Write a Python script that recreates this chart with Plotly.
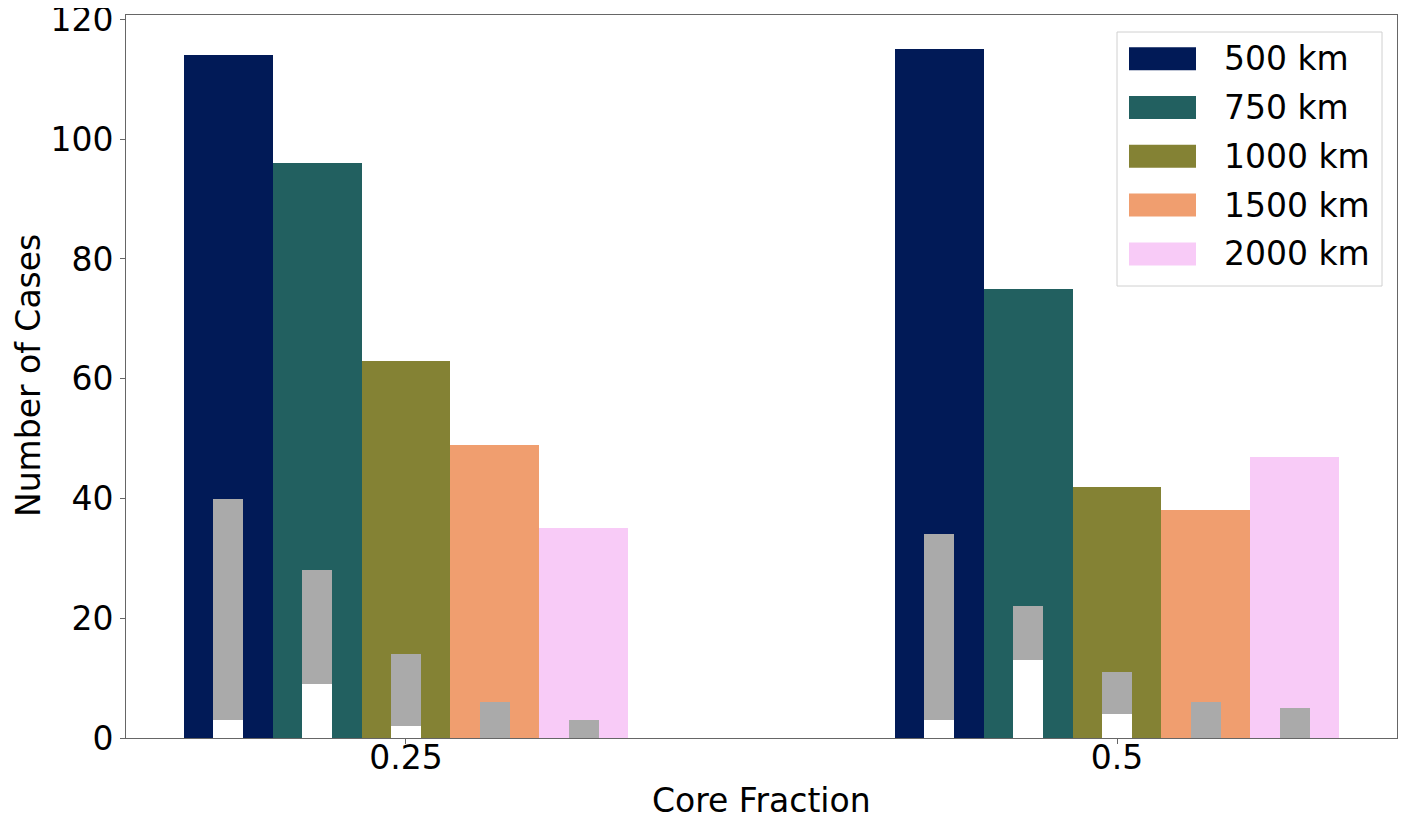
import plotly.graph_objects as go

# ---- data ----
groups = ["0.25", "0.5"]
series_names = ["500 km", "750 km", "1000 km", "1500 km", "2000 km"]
series_colors = ["#011a57", "#226060", "#848234", "#f09e6f", "#f8cbf7"]
total_cases = [
    [114, 115],
    [96, 75],
    [63, 42],
    [49, 38],
    [35, 47],
]
gray_cases = [
    [40, 34],
    [28, 22],
    [14, 11],
    [6, 6],
    [3, 5],
]
white_cases = [
    [3, 3],
    [9, 13],
    [2, 4],
    [0, 0],
    [0, 0],
]
y_ticks = [0, 20, 40, 60, 80, 100, 120]

# ---- layout constants (page has an 8px body margin) ----
OFF = 8
W, H = 1408 - 2 * OFF, 822 - 2 * OFF
# plot area in screen pixels
SX0, SX1, SY0, SY1 = 126, 1397, 15, 738
L, T = SX0 - OFF, SY0 - OFF
R = W - (SX1 - OFF)
B = H - (SY1 - OFF)
PW, PH = W - L - R, H - T - B
bw = 0.125
FONT = "DejaVu Sans"
FS = 33

group_pos = list(range(len(groups)))

fig = go.Figure()
for i, name in enumerate(series_names):
    xs = [g + (i - 2) * bw for g in group_pos]
    fig.add_trace(go.Bar(x=xs, y=total_cases[i], width=bw, marker_color=series_colors[i],
                         marker_line_width=0, name=name, showlegend=False))
for i, name in enumerate(series_names):
    xs = [g + (i - 2) * bw for g in group_pos]
    fig.add_trace(go.Bar(x=xs, y=gray_cases[i], width=bw / 3, marker_color="#aaaaaa",
                         marker_line_width=0, showlegend=False))
for i, name in enumerate(series_names):
    xs = [g + (i - 2) * bw for g in group_pos]
    fig.add_trace(go.Bar(x=xs, y=white_cases[i], width=bw / 3, marker_color="#ffffff",
                         marker_line_width=0, showlegend=False))

xmin = -2.5 * bw
xmax = group_pos[-1] + 2.5 * bw
pad = 0.05 * (xmax - xmin)
ymax = max(max(v) for v in total_cases) * 1.05

fig.update_layout(
    width=W, height=H,
    margin=dict(l=L, r=R, t=T, b=B, autoexpand=False),
    barmode="overlay",
    plot_bgcolor="white", paper_bgcolor="white",
    font=dict(family=FONT, size=FS, color="black"),
    bargap=0,
)
fig.update_xaxes(range=[xmin - pad, xmax + pad], tickvals=group_pos, ticktext=groups,
                 automargin=False, ticklabeloverflow="allow", ticklabelstandoff=-15,
                 showgrid=False, zeroline=False, showline=True, mirror=True,
                 linecolor="#666666", linewidth=1, ticks="outside", ticklen=5,
                 tickcolor="#666666", tickfont=dict(size=FS, family=FONT, color="black"))
fig.update_yaxes(range=[0, ymax], tickvals=y_ticks, showgrid=False, zeroline=False,
                 automargin=False, ticklabeloverflow="allow",
                 showline=True, mirror=True, linecolor="#666666", linewidth=1,
                 ticks="outside", ticklen=5, tickcolor="#666666",
                 tickfont=dict(size=FS, family=FONT, color="black"))

def px_x(p):
    return (p - SX0) / PW

def px_y(p):
    return (SY1 - p) / PH

annotations = [
    dict(text="Core Fraction", xref="paper", yref="paper", x=0.5, y=px_y(801),
         xanchor="center", yanchor="middle", showarrow=False,
         font=dict(size=FS, family=FONT, color="black")),
    dict(text="Number of Cases", xref="paper", yref="paper", x=px_x(28), y=px_y(376),
         xanchor="center", yanchor="middle", showarrow=False, textangle=-90,
         font=dict(size=FS, family=FONT, color="black")),
]
shapes = []
# legend box
bx0, bx1, by0, by1 = 1117, 1382, 32, 286
shapes.append(dict(type="rect", xref="paper", yref="paper",
                   x0=px_x(bx0), x1=px_x(bx1), y0=px_y(by1), y1=px_y(by0),
                   line=dict(color="#d0d0d0", width=1), fillcolor="rgba(255,255,255,0.8)",
                   layer="above"))
row_centers = [58.7, 107.5, 156.3, 205.1, 253.9]
for i, name in enumerate(series_names):
    cy = row_centers[i]
    shapes.append(dict(type="rect", xref="paper", yref="paper",
                       x0=px_x(1129), x1=px_x(1196), y0=px_y(cy + 11.5), y1=px_y(cy - 11.5),
                       line=dict(width=0), fillcolor=series_colors[i], layer="above"))
    annotations.append(dict(text=name, xref="paper", yref="paper", x=px_x(1222), y=px_y(cy),
                            xanchor="left", yanchor="middle", showarrow=False,
                            font=dict(size=FS, family=FONT, color="black")))

fig.update_layout(annotations=annotations, shapes=shapes)
fig.write_html("out.html")
